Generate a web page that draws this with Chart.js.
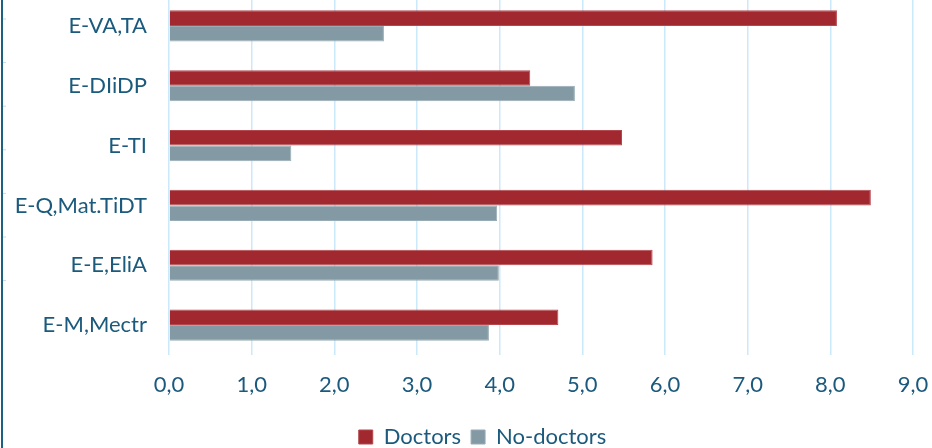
<!DOCTYPE html>
<html>
<head>
<meta charset="utf-8">
<script src="https://cdn.jsdelivr.net/npm/chart.js@4.4.1/dist/chart.umd.min.js"></script>
<style>
  html, body { margin: 0; padding: 0; background: #fff; overflow: hidden; }
  #wrap { position: absolute; left: 0; top: -4px; width: 932px; height: 462px; }
</style>
</head>
<body>
<div id="wrap"><canvas id="chart"></canvas></div>
<script>
const categories = ["E-VA,TA", "E-DIiDP", "E-TI", "E-Q,Mat.TiDT", "E-E,EliA", "E-M,Mectr"];
const doctors = [8.08, 4.37, 5.48, 8.49, 5.85, 4.71];
const noDoctors = [2.60, 4.91, 1.48, 3.97, 3.99, 3.87];

const textColor = "#1b5a7d";
const fontFamily = "Lato, 'Open Sans', sans-serif";

// thin frame line on the left edge, left over from the original layout
const leftFrame = {
  id: "leftFrame",
  afterLayout(chart) {
    // legend in the original sits a bit right of the canvas centre
    chart.legend.left += 26;
    chart.legend.right += 26;
  },
  afterDraw(chart) {
    const ctx = chart.ctx;
    ctx.save();
    ctx.strokeStyle = "#1f5f80";
    ctx.lineWidth = 2;
    ctx.beginPath();
    ctx.moveTo(2, 0);
    ctx.lineTo(2, chart.height);
    ctx.stroke();
    ctx.lineWidth = 1;
    ctx.strokeStyle = "#b9dcef";
    for (let i = 0; i < 7; i++) {
      const y = 23 + i * 43.6;
      ctx.beginPath();
      ctx.moveTo(3, y);
      ctx.lineTo(6, y);
      ctx.stroke();
    }
    ctx.restore();
  },
};

const ctx = document.getElementById("chart");
new Chart(ctx, {
  type: "bar",
  data: {
    labels: categories,
    datasets: [
      {
        label: "Doctors",
        data: doctors,
        backgroundColor: "#a1282f",
        borderColor: "#b4484e",
        borderWidth: 1,
        borderSkipped: "left",
        barPercentage: 1,
        categoryPercentage: 0.52,
      },
      {
        label: "No-doctors",
        data: noDoctors,
        backgroundColor: "#8399a3",
        borderColor: "#98acb5",
        borderWidth: 1,
        borderSkipped: "left",
        barPercentage: 1,
        categoryPercentage: 0.52,
      },
    ],
  },
  options: {
    indexAxis: "y",
    responsive: true,
    maintainAspectRatio: false,
    animation: false,
    layout: {
      padding: { left: 0, right: 19, top: 0, bottom: 0 },
    },
    scales: {
      x: {
        min: 0,
        max: 9,
        border: { display: false },
        grid: {
          color: "#cbe9fa",
          lineWidth: 1.5,
          drawTicks: false,
        },
        ticks: {
          stepSize: 1,
          padding: 17,
          color: textColor,
          font: { family: fontFamily, size: 22 },
          callback: (v) => v.toFixed(1).replace(".", ","),
        },
        afterFit: (scale) => {
          scale.height = 61;
          scale.paddingLeft = 0;
          scale.paddingRight = 0;
        },
      },
      y: {
        border: { display: false },
        grid: { display: false, drawTicks: false },
        ticks: {
          padding: 22,
          color: textColor,
          font: { family: fontFamily, size: 22 },
        },
        afterFit: (scale) => {
          scale.width = 169;
          scale.paddingTop = 0;
          scale.paddingBottom = 0;
        },
      },
    },
    plugins: {
      legend: {
        position: "bottom",
        labels: {
          color: textColor,
          font: { family: fontFamily, size: 22 },
          boxWidth: 14,
          boxHeight: 14,
          padding: 10,
        },
      },
      tooltip: { enabled: false },
    },
  },
  plugins: [leftFrame],
});
</script>
</body>
</html>
